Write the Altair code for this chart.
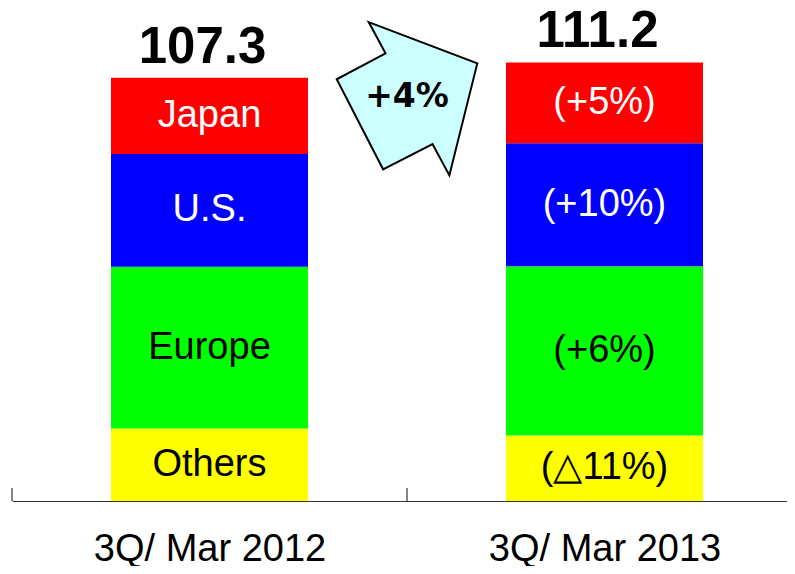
import altair as alt
import pandas as pd

periods = ["3Q/ Mar 2012", "3Q/ Mar 2013"]
regions = ["Others", "Europe", "U.S.", "Japan"]  # bottom to top
values_2012 = [18.4, 41.0, 28.6, 19.3]
values_2013 = [16.6, 42.9, 31.2, 20.5]
totals = [107.3, 111.2]
labels_2012 = ["Others", "Europe", "U.S.", "Japan"]
labels_2013 = ["(\u25b311%)", "(+6%)", "(+10%)", "(+5%)"]
region_colors = ["#FFFF00", "#00FF00", "#0000FF", "#FF0000"]
text_colors = ["black", "black", "white", "white"]
growth_label = ["+4%"]
growth_level = [102]

rows = []
for i, (period, vals, labs) in enumerate([(periods[0], values_2012, labels_2012),
                                          (periods[1], values_2013, labels_2013)]):
    start = 0.0
    for reg, v, lab in zip(regions, vals, labs):
        rows.append({"period": period, "idx": i, "region": reg, "value": v,
                     "start": start, "end": start + v,
                     "mid": start + v / 2, "label": lab})
        start += v
seg = pd.DataFrame(rows)
tot = pd.DataFrame({"period": periods, "idx": list(range(len(periods))),
                    "total": totals, "label": [f"{t:.1f}" for t in totals]})
arrow = pd.DataFrame({"idx": [1], "level": growth_level, "label": growth_label})
ticks = pd.DataFrame({"idx": list(range(len(periods)))})

FONT = "Liberation Sans"
W, H = 775, 493
STEP = 395  # pixel width of one category slot (the axis runs past the right edge)

xscale = alt.Scale(domain=[0, W / STEP], nice=False, zero=False, padding=0)
yscale = alt.Scale(domain=[0, 125], padding=0)

label_expr = f"datum.value < 1 ? '{periods[0]}' : '{periods[1]}'"
x_center = alt.X("xc:Q", scale=xscale, title=None,
                 axis=alt.Axis(values=[0.5, 1.5], labelExpr=label_expr, labelAngle=0,
                               ticks=False, grid=False, labelFont=FONT,
                               labelFontSize=38, labelColor="black", labelLimit=0,
                               labelPadding=59, labelBaseline="alphabetic",
                               labelFlush=False, labelOverlap=False,
                               domainColor="#333333", domainWidth=1.2))

center_calc = {"xc": "datum.idx + 0.5"}

bars = alt.Chart(seg).transform_calculate(**center_calc).mark_bar(size=197).encode(
    x=x_center,
    y=alt.Y("start:Q", scale=yscale, axis=None),
    y2="end:Q",
    color=alt.Color("region:N", scale=alt.Scale(domain=regions, range=region_colors),
                    legend=None),
)

seg_text = alt.Chart(seg).transform_calculate(**center_calc).mark_text(
    font=FONT, fontSize=38, baseline="middle").encode(
    x=alt.X("xc:Q", scale=xscale),
    y=alt.Y("mid:Q", scale=yscale),
    text="label:N",
    fill=alt.Fill("region:N", scale=alt.Scale(domain=regions, range=text_colors),
                  legend=None),
)

tot_text = alt.Chart(tot).transform_calculate(**center_calc).mark_text(
    font=FONT, fontSize=51, fontWeight="bold", baseline="alphabetic",
    dy=-15, dx=-7, color="black").encode(
    x=alt.X("xc:Q", scale=xscale),
    y=alt.Y("total:Q", scale=yscale),
    text="label:N",
)

tick_rules = alt.Chart(ticks).mark_rule(color="#333333", strokeWidth=1.2).encode(
    x=alt.X("idx:Q", scale=xscale),
    y=alt.value(H - 13),
    y2=alt.value(H),
)

arrow_path = ("M -0.5 -1.0 L 0.917 -0.461 L 0.553 1.0 L 0.333 0.592 "
              "L -0.312 0.921 L -0.917 -0.254 L -0.280 -0.592 Z")
arrow_mark = alt.Chart(arrow).mark_point(shape=arrow_path, size=23500, filled=True,
                                         fill="#CCFFFF", stroke="black",
                                         strokeWidth=2, opacity=1).encode(
    x=alt.X("idx:Q", scale=xscale),
    y=alt.Y("level:Q", scale=yscale),
)
arrow_text = alt.Chart(arrow).mark_text(font="DejaVu Sans", fontSize=33,
                                        fontWeight="bold", baseline="middle",
                                        color="black", dy=-2).encode(
    x=alt.X("idx:Q", scale=xscale),
    y=alt.Y("level:Q", scale=yscale),
    text="label:N",
)

chart = alt.layer(bars, seg_text, tot_text, tick_rules, arrow_mark, arrow_text).resolve_scale(
    color="independent", fill="independent"
).properties(
    width=W, height=H,
    autosize=alt.AutoSizeParams(type="none"),
    padding={"left": 4, "right": 0, "top": 0, "bottom": 65},
).configure_view(stroke=None)

chart.save("out.html", embed_options={"renderer": "svg", "actions": False})
